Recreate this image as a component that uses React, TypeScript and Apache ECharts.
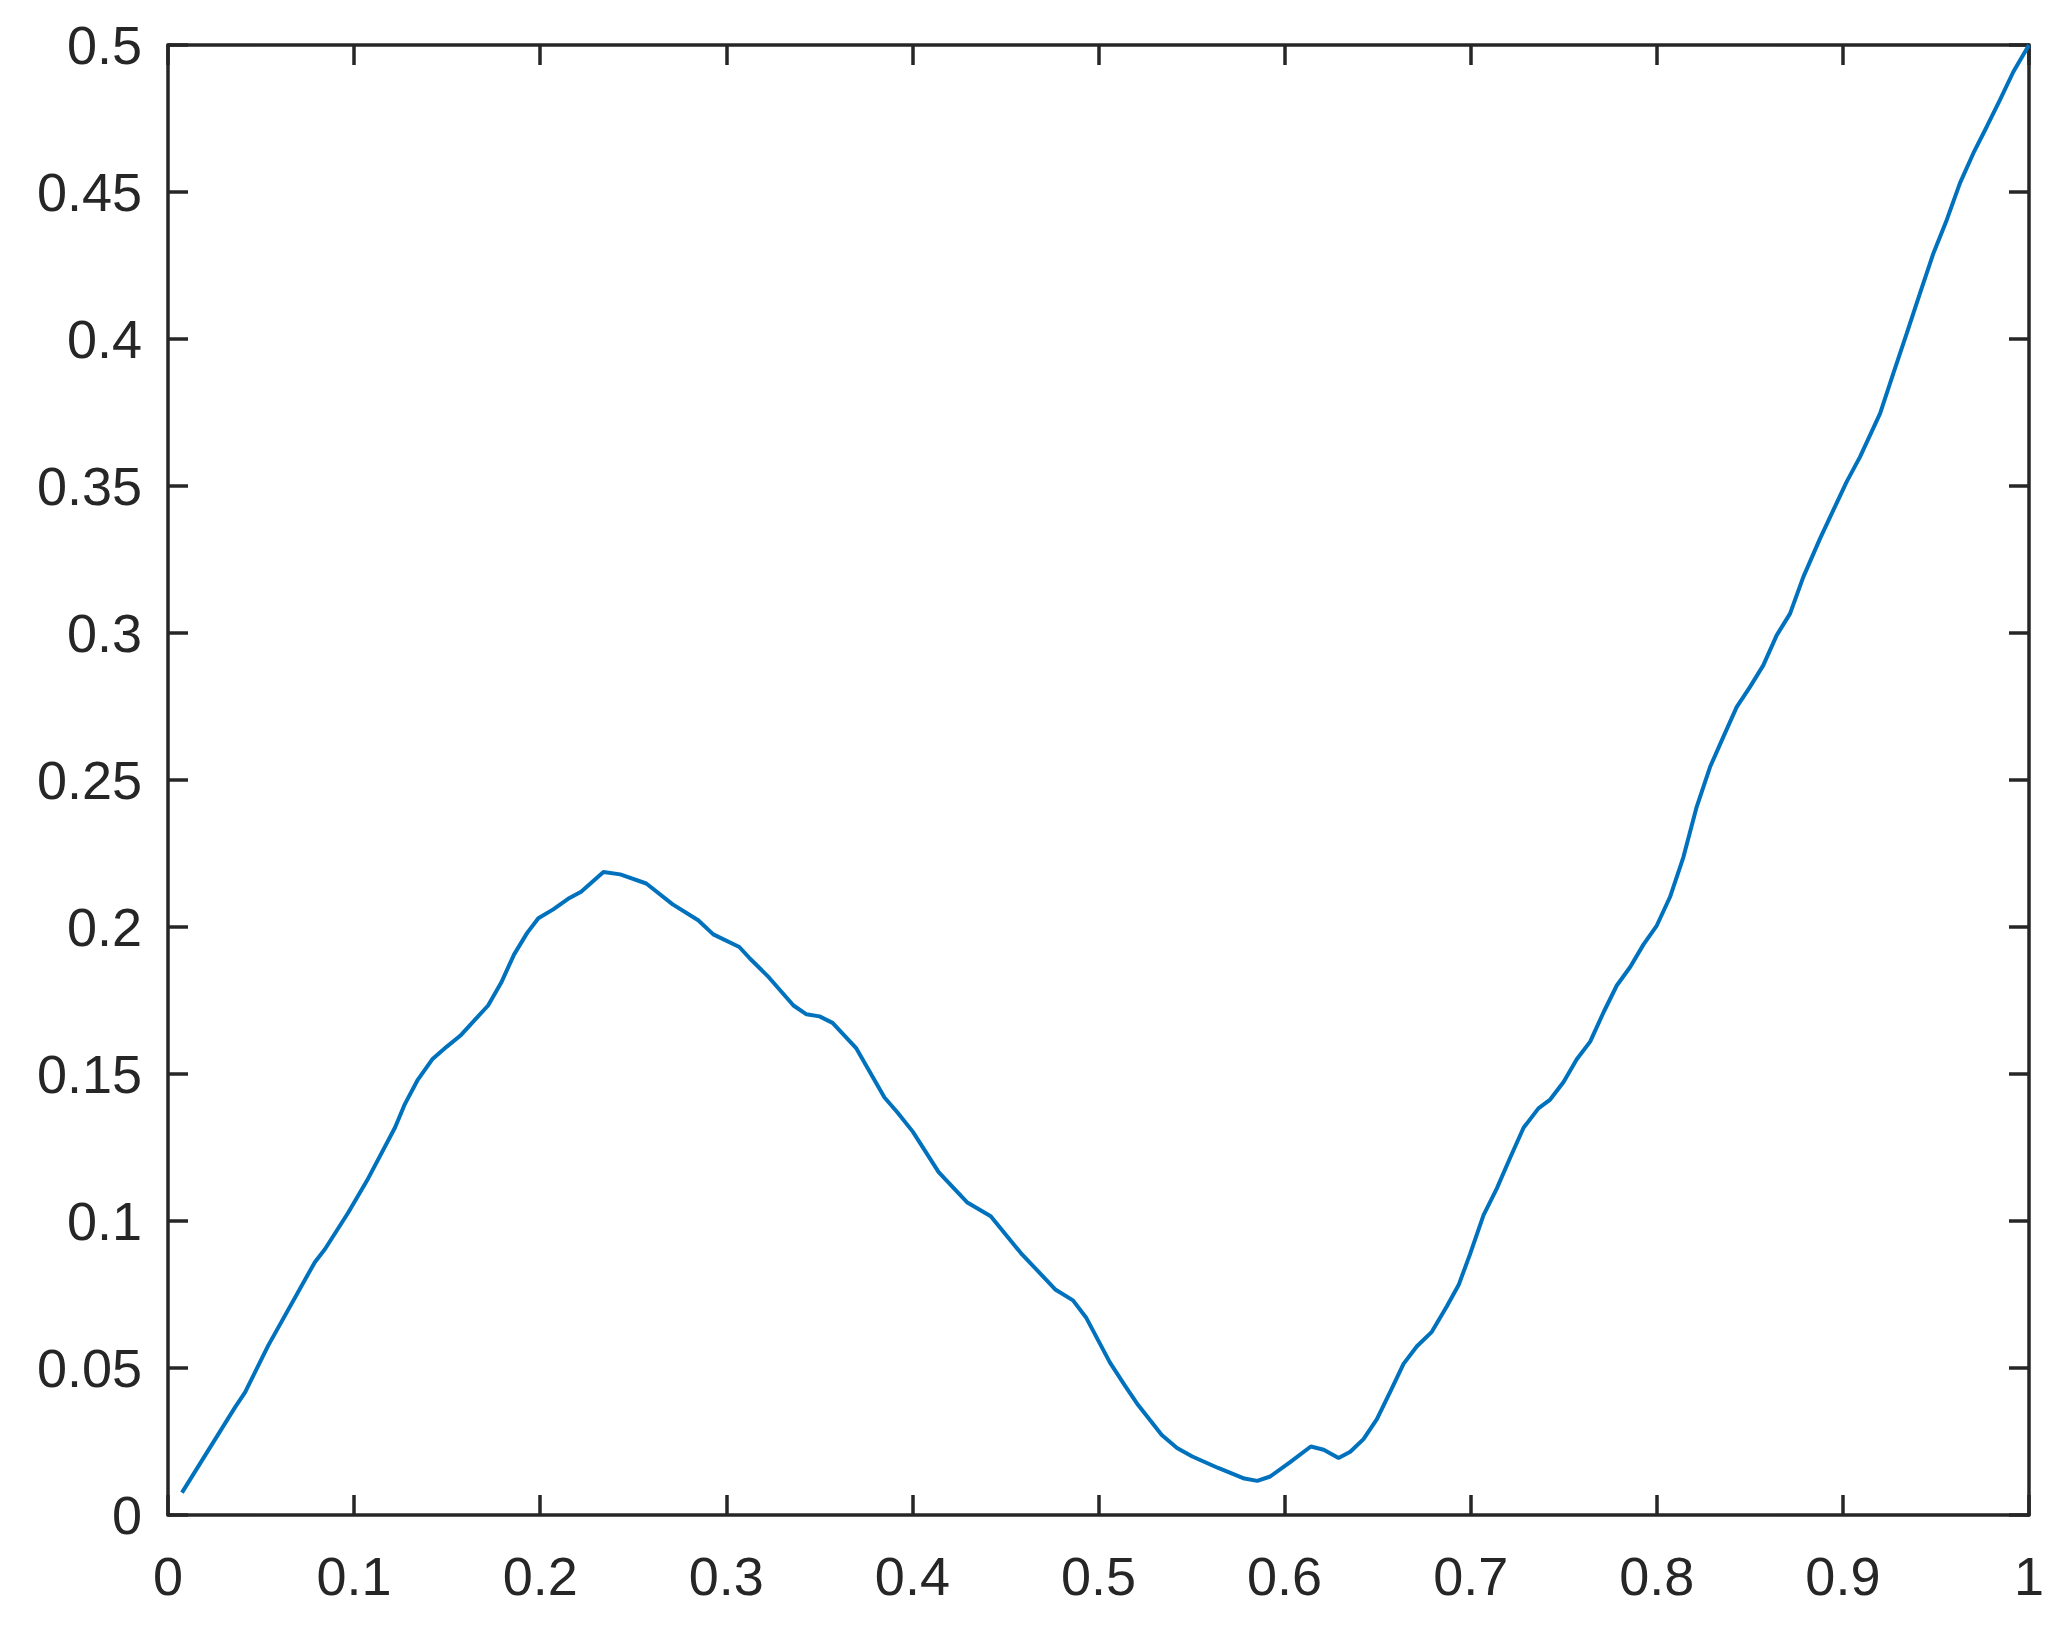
import * as echarts from "echarts";
import { useEffect, useRef } from "react";

// x positions of the curve samples
const xValues = [
  0.0075, 0.036, 0.0414, 0.0539, 0.0789, 0.0843, 0.0968, 0.1075, 0.122, 0.127,
  0.134, 0.142, 0.15, 0.157, 0.172, 0.179, 0.186, 0.193, 0.199, 0.207, 0.215,
  0.222, 0.234, 0.243, 0.257, 0.2712, 0.2849, 0.293, 0.307, 0.3128, 0.3221,
  0.3361, 0.3431, 0.3501, 0.3571, 0.3699, 0.385, 0.392, 0.4002, 0.4141, 0.4293,
  0.4421, 0.4584, 0.477, 0.4863, 0.4933, 0.5061, 0.5143, 0.5213, 0.534, 0.5422,
  0.5504, 0.5643, 0.5784, 0.5853, 0.5923, 0.603, 0.6141, 0.621, 0.629, 0.6353,
  0.6424, 0.6496, 0.6568, 0.6639, 0.6711, 0.6791, 0.6872, 0.6935, 0.6997,
  0.7069, 0.714, 0.7212, 0.7284, 0.7364, 0.7427, 0.7499, 0.757, 0.7642, 0.7714,
  0.7785, 0.7857, 0.7928, 0.8, 0.8071, 0.8143, 0.8214, 0.8286, 0.8357, 0.8429,
  0.85, 0.8572, 0.8644, 0.8716, 0.8787, 0.8877, 0.8948, 0.902, 0.9092, 0.92,
  0.9271, 0.9343, 0.9414, 0.9486, 0.9558, 0.9629, 0.9701, 0.9773, 0.9844,
  0.9916, 1.0,
];

// y values of the curve samples
const yValues = [
  0.0076, 0.0366, 0.0417, 0.0577, 0.086, 0.0904, 0.1028, 0.1144, 0.1318, 0.1394,
  0.1478, 0.155, 0.1594, 0.163, 0.1733, 0.181, 0.1907, 0.198, 0.203, 0.206,
  0.2096, 0.212, 0.2187, 0.2179, 0.2148, 0.2077, 0.2023, 0.1975, 0.1932, 0.1892,
  0.1834, 0.1733, 0.1703, 0.1696, 0.1674, 0.1587, 0.142, 0.1369, 0.1304, 0.1166,
  0.1064, 0.1016, 0.089, 0.0766, 0.073, 0.0672, 0.0519, 0.0439, 0.0374, 0.0272,
  0.0228, 0.0199, 0.016, 0.0124, 0.0116, 0.0131, 0.018, 0.0233, 0.0222, 0.0194,
  0.0215, 0.0258, 0.0326, 0.042, 0.0514, 0.0574, 0.0623, 0.071, 0.0782, 0.0888,
  0.102, 0.111, 0.1215, 0.1317, 0.1383, 0.1413, 0.1473, 0.155, 0.161, 0.171,
  0.1801, 0.1864, 0.194, 0.2005, 0.2102, 0.2238, 0.2408, 0.2544, 0.2646, 0.2748,
  0.2816, 0.289, 0.2992, 0.3066, 0.319, 0.3321, 0.3417, 0.3514, 0.3599, 0.3747,
  0.3883, 0.4019, 0.4155, 0.4291, 0.4405, 0.453, 0.4632, 0.4722, 0.4813, 0.4909,
  0.5,
];

const axisColor = "#262626";
const fontFamily = "'Liberation Sans', Arial, Helvetica, sans-serif";

const fmt = (v: number) => String(+v.toFixed(2));

function makeAxis(opts: any) {
  return {
    type: "value",
    splitLine: { show: false },
    axisLine: { show: true, onZero: false, lineStyle: { color: axisColor, width: 3.5 } },
    axisTick: { show: true, inside: true, length: 20, lineStyle: { color: axisColor, width: 3.5 } },
    ...opts,
  };
}

const App = () => {
  const chartRef = useRef<HTMLDivElement>(null);

  useEffect(() => {
    if (!chartRef.current) {
      return;
    }
    const chart = echarts.init(chartRef.current, null, { renderer: "svg" });
    const labelStyle = {
      color: axisColor,
      fontSize: 54,
      fontFamily,
      formatter: fmt,
    };
    chart.setOption({
      animation: false,
      backgroundColor: "#ffffff",
      grid: { left: 168, top: 45, right: 39, bottom: 123, containLabel: false },
      xAxis: [
        makeAxis({
          min: 0,
          max: 1,
          interval: 0.1,
          position: "bottom",
          axisLabel: { ...labelStyle, margin: 34 },
        }),
        makeAxis({
          min: 0,
          max: 1,
          interval: 0.1,
          position: "top",
          axisLabel: { show: false },
        }),
      ],
      yAxis: [
        makeAxis({
          min: 0,
          max: 0.5,
          interval: 0.05,
          position: "left",
          axisLabel: { ...labelStyle, margin: 26 },
        }),
        makeAxis({
          min: 0,
          max: 0.5,
          interval: 0.05,
          position: "right",
          axisLabel: { show: false },
        }),
      ],
      series: [
        {
          type: "line",
          data: xValues.map((x, i) => [x, yValues[i]]),
          showSymbol: false,
          symbol: "none",
          lineStyle: { color: "#0072BD", width: 4 },
          clip: false,
        },
      ],
    });
    return () => {
      chart.dispose();
    };
  }, []);

  return (
    <div
      ref={chartRef}
      style={{ position: "absolute", left: 0, top: 0, width: "2068px", height: "1638px" }}
    ></div>
  );
};

export default App;
